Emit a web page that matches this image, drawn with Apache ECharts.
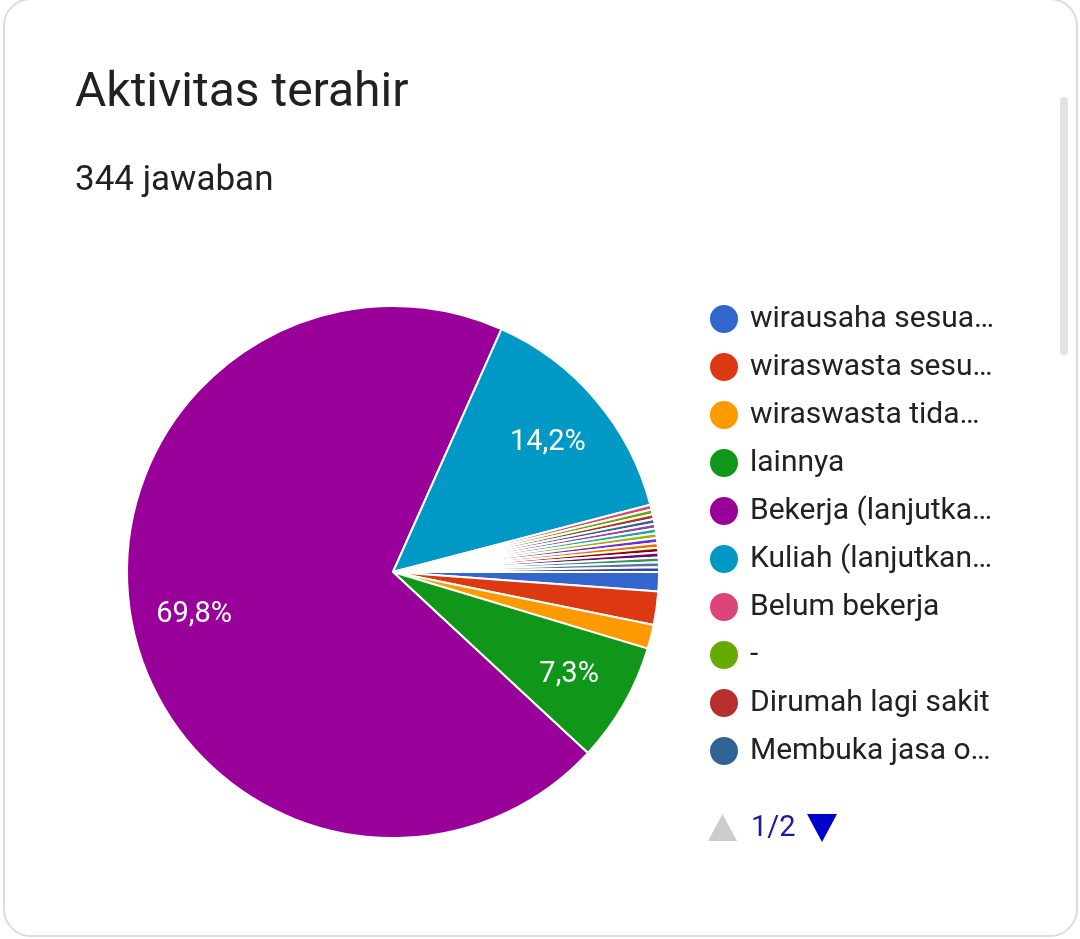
<!DOCTYPE html>
<html>
<head>
<meta charset="utf-8">
<script src="https://cdn.jsdelivr.net/npm/echarts@6/dist/echarts.min.js"></script>
<style>
  html, body { margin: 0; padding: 0; background: #fff; }
  body { width: 1080px; height: 939px; position: relative; overflow: hidden; }
  #card { position: absolute; left: 3px; top: -2px; width: 1071px; height: 935px;
          border: 2px solid #dadce0; border-radius: 28px; background: #fff; }
  #scroll { position: absolute; left: 1060px; top: 97px; width: 8px; height: 258px;
            background: #e3e3e3; border-radius: 4px; }
  #chart { position: absolute; left: 0; top: 0; width: 1080px; height: 939px; }
</style>
</head>
<body>
<div id="card"></div>
<div id="scroll"></div>
<div id="chart"></div>
<script>
    'use strict';
    var titleText = 'Aktivitas terahir';
    var subtitleText = '344 jawaban';

    // legend names as shown (long answers are cut by the form)
    var names = [
        'wirausaha sesua…', 'wiraswasta sesu…', 'wiraswasta tida…', 'lainnya',
        'Bekerja (lanjutka…', 'Kuliah (lanjutkan…', 'Belum bekerja', '-',
        'Dirumah lagi sakit', 'Membuka jasa o…',
        'Jawaban lain 1', 'Jawaban lain 2', 'Jawaban lain 3', 'Jawaban lain 4',
        'Jawaban lain 5', 'Jawaban lain 6', 'Jawaban lain 7', 'Jawaban lain 8',
        'Jawaban lain 9', 'Jawaban lain 10'
    ];
    // answers per option (344 in total)
    var counts = [4, 7, 5, 25, 240, 49, 1, 1, 1, 1, 1, 1, 1, 1, 1, 1, 1, 1, 1, 1];
    var colors = [
        '#3366cc', '#dc3912', '#ff9900', '#109618', '#990099', '#0099c6',
        '#dd4477', '#66aa00', '#b82e2e', '#316395', '#994499', '#22aa99',
        '#aaaa11', '#6633cc', '#e67300', '#8b0707', '#651067', '#329262',
        '#5574a6', '#3b3eac'
    ];
    var perPage = 10;

    var pieData = names.map(function (n, i) {
        return { name: n, value: counts[i] };
    });
    var pageCount = Math.ceil(names.length / perPage);

    var chart = echarts.init(document.getElementById('chart'), null, { renderer: 'canvas' });
    var font = 'Roboto, "Noto Sans", sans-serif';

    var option = {
        animation: false,
        color: colors,
        graphic: [
            { type: 'text', x: 75, y: 94,
              style: { text: titleText, fontSize: 48, fontFamily: font, fill: '#202124', verticalAlign: 'middle' } },
            { type: 'text', x: 75, y: 181,
              style: { text: subtitleText, fontSize: 35, fontFamily: font, fill: '#202124', verticalAlign: 'middle' } },
            // legend pager (page 1 of the legend is shown)
            { type: 'group', x: 708, y: 814, children: [
                { type: 'polygon', shape: { points: [[0, 27], [14.5, 0], [29, 27]] }, style: { fill: '#cccccc' } },
                { type: 'text', x: 43, y: 15,
                  style: { text: '1/' + pageCount, fontSize: 29, fontFamily: font, fill: '#1a1a9a', verticalAlign: 'middle' } },
                { type: 'polygon', shape: { points: [[99, 0], [129, 0], [114, 28]] }, style: { fill: '#0000cc' } }
            ] }
        ],
        legend: {
            type: 'plain',
            orient: 'vertical',
            left: 708,
            top: 303,
            padding: 0,
            data: names.slice(0, perPage),
            icon: 'circle',
            itemWidth: 30,
            itemHeight: 30,
            itemGap: 16,
            textStyle: { fontSize: 30, lineHeight: 30, fontFamily: font, color: '#202124', padding: [0, 0, 0, 6] }
        },
        series: [
            {
                type: 'pie',
                center: [393, 572],
                radius: [0, 266],
                startAngle: 0,
                clockwise: true,
                avoidLabelOverlap: false,
                itemStyle: { borderColor: '#ffffff', borderWidth: 2 },
                label: { show: false },
                labelLine: { show: false },
                emphasis: { disabled: true },
                data: pieData
            },
            {
                // label ring, sits over the pie
                type: 'pie',
                center: [393, 574],
                radius: [134, 266],
                startAngle: 0,
                clockwise: true,
                silent: true,
                legendHoverLink: false,
                percentPrecision: 1,
                avoidLabelOverlap: false,
                itemStyle: { color: 'rgba(0,0,0,0)', borderWidth: 0 },
                label: {
                    show: true,
                    position: 'inside',
                    color: '#ffffff',
                    fontSize: 29,
                    fontFamily: font,
                    formatter: function (p) {
                        if (p.percent < 5) return '';
                        return String(p.percent).replace('.', ',') + '%';
                    }
                },
                labelLine: { show: false },
                emphasis: { disabled: true },
                data: pieData
            }
        ]
    };
    chart.setOption(option);
</script>
</body>
</html>
